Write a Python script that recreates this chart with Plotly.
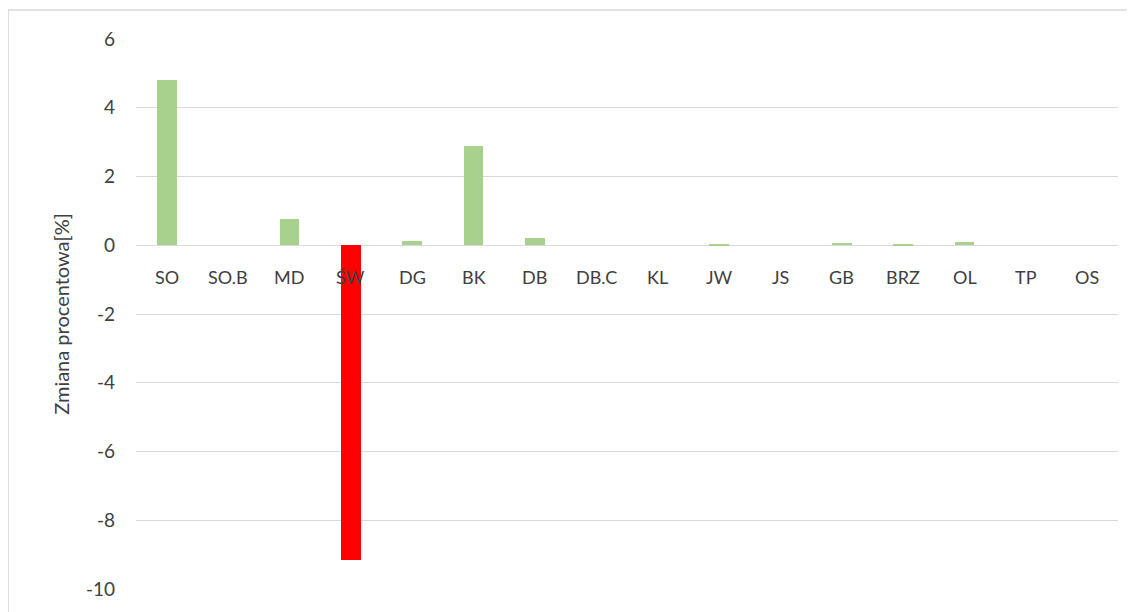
import plotly.graph_objects as go

# Data
categories = ["SO", "SO.B", "MD", "ŚW", "DG", "BK", "DB", "DB.C",
              "KL", "JW", "JS", "GB", "BRZ", "OL", "TP", "OS"]
values = [4.80, 0.0, 0.76, -9.16, 0.12, 2.88, 0.22, 0.0,
          0.0, 0.02, 0.0, 0.06, 0.02, 0.09, 0.0, 0.0]
y_ticks = [6, 4, 2, 0, -2, -4, -6, -8, -10]
y_tick_labels = [str(t) for t in y_ticks]  # plain hyphen, not unicode minus

colors = ["#FF0000" if v < 0 else "#A9D18E" for v in values]
font_family = "Lato, 'Open Sans', sans-serif"
text_color = "#404040"

fig = go.Figure()

fig.add_trace(go.Bar(
    x=categories, y=values,
    marker=dict(color=colors, line=dict(width=0)),
    width=0.32,
))

# category labels sit just under the zero line
for c in categories:
    fig.add_annotation(
        x=c, y=0, xref="x", yref="y",
        text=c, showarrow=False, yshift=-32,
        font=dict(family=font_family, size=18, color=text_color),
    )

# outer chart border
fig.add_shape(
    type="rect", xref="paper", yref="paper",
    x0=-0.1303, x1=1.0163, y0=-0.2, y1=1.0527,
    line=dict(color="#D9D9D9", width=1.5),
    fillcolor="rgba(0,0,0,0)", layer="below",
)

fig.update_layout(
    width=1135, height=612,
    margin=dict(l=128, r=25, t=31, b=31),
    paper_bgcolor="white", plot_bgcolor="white",
    showlegend=False,
    bargap=0,
    font=dict(family=font_family, size=18, color=text_color),
    xaxis=dict(showticklabels=False, showgrid=False, zeroline=False,
               showline=False, ticks=""),
    yaxis=dict(
        range=[-10, 6],
        tickvals=y_ticks, ticktext=y_tick_labels,
        showgrid=True, gridcolor="#D9D9D9", gridwidth=1.3,
        zeroline=True, zerolinecolor="#D9D9D9", zerolinewidth=1.3,
        showline=False, ticks="", ticklabelstandoff=20,
        automargin=False,
        title=dict(text="Zmiana procentowa[%]", standoff=10,
                   font=dict(size=20, color=text_color)),
        tickfont=dict(size=19, color=text_color),
    ),
)

fig.write_html("out.html")
